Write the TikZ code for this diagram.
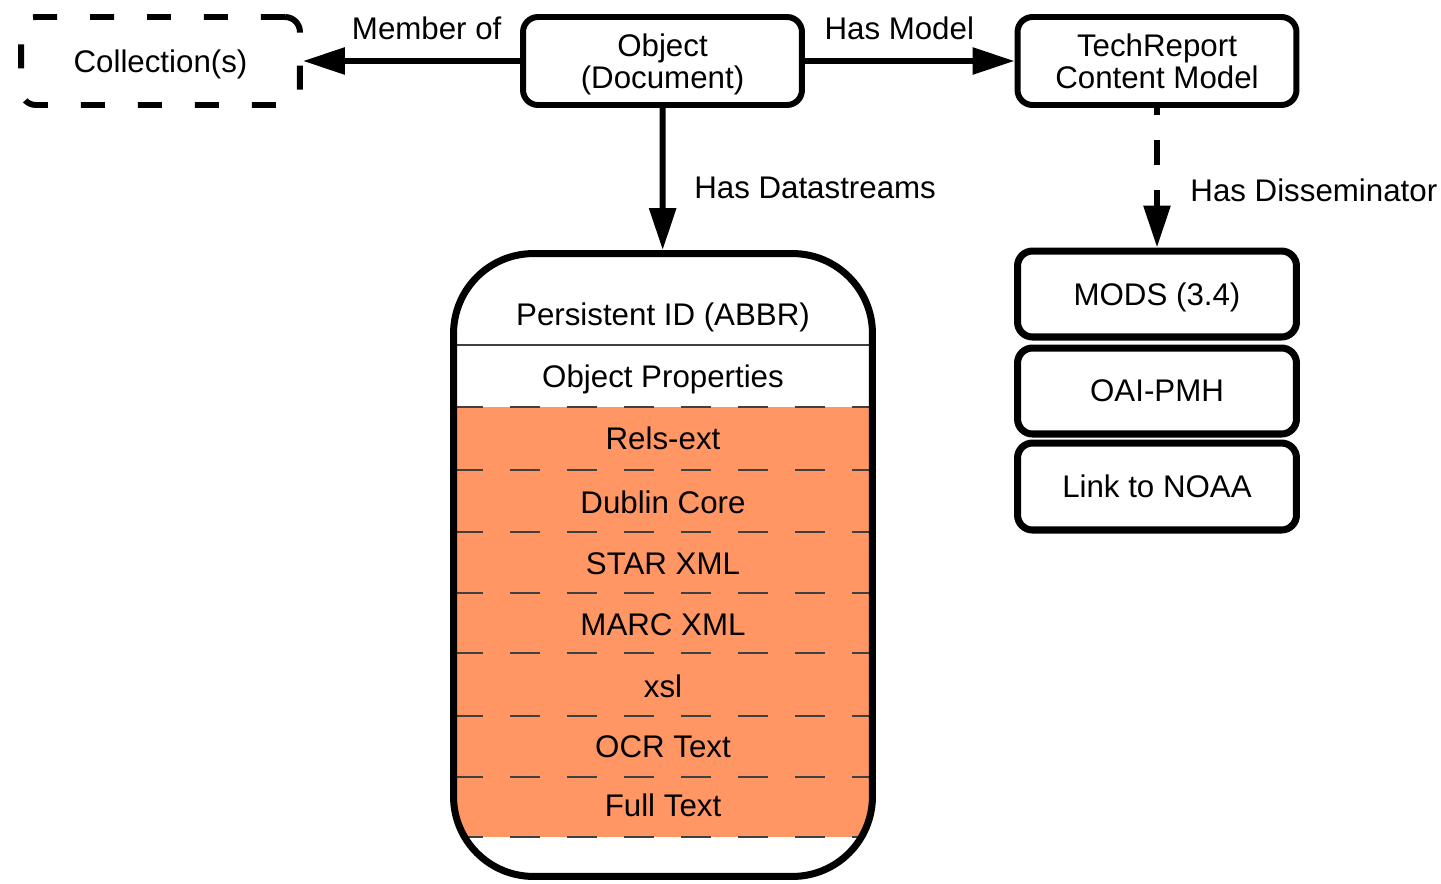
\documentclass[tikz,border=0pt]{standalone}
\usepackage{fontspec}
\setmainfont{Liberation Sans}
\usetikzlibrary{arrows.meta}
\definecolor{dsorange}{RGB}{255,150,100}

\begin{document}
\begin{tikzpicture}[x=0.02cm,y=-0.02cm,
  font=\fontsize{17.8}{18.2}\selectfont,
  box/.style={draw, line width=3.4pt, rounded corners=0.3cm, minimum width=5.58cm, minimum height=1.76cm, align=center, text depth=0pt},
  dissbox/.style={box, line width=4pt, minimum height=1.72cm},
  row/.style={text depth=0pt},
  rel/.style={line width=3.4pt, -{Triangle[length=0.84cm,width=0.52cm]}},
  sep/.style={draw=black!75, line width=1.1pt, dash pattern=on 0.6cm off 0.54cm}]
\useasboundingbox (0,0) rectangle (1441,883);

% top row
\node[box, dash pattern=on 0.48cm off 0.66cm] (coll) at (160.5,61) {Collection(s)};
\node[box] (obj) at (662.5,61) {Object\\(Document)};
\node[box] (tech) at (1157,61) {TechReport\\Content Model};

% datastreams
\begin{scope}
\clip[rounded corners=1.6cm] (453.5,253.5) rectangle (872.5,876.5);
\fill[dsorange] (453.5,407) rectangle (872.5,837);
\draw[black!75, line width=1.1pt] (453.5,345) -- (872.5,345);
\draw[sep] (453.5,407) -- (872.5,407);
\draw[sep] (453.5,470) -- (872.5,470);
\draw[sep] (453.5,532) -- (872.5,532);
\draw[sep] (453.5,593) -- (872.5,593);
\draw[sep] (453.5,653) -- (872.5,653);
\draw[sep] (453.5,716) -- (872.5,716);
\draw[sep] (453.5,777) -- (872.5,777);
\draw[sep] (453.5,837) -- (872.5,837);
\end{scope}
\node[draw, line width=4pt, rounded corners=1.6cm, minimum width=8.38cm, minimum height=12.46cm] (store) at (663,565) {};
\node[row] (pid) at (663,314) {Persistent ID (ABBR)};
\node[row] (props) at (663,376) {Object Properties};
\node[row] (rels) at (663,438) {Rels-ext};
\node[row] (dc) at (663,502) {Dublin Core};
\node[row] (star) at (663,564) {STAR XML};
\node[row] (marc) at (663,625) {MARC XML};
\node[row] (xsl) at (663,686) {xsl};
\node[row] (ocr) at (663,747) {OCR Text};
\node[row] (full) at (663,805) {Full Text};

% disseminators
\node[dissbox] (mods) at (1157,294) {MODS (3.4)};
\node[dissbox] (oai) at (1157,391) {OAI-PMH};
\node[dissbox, minimum height=1.74cm] (noaa) at (1157,486.5) {Link to NOAA};

% relations
\path[draw,rel] (obj) -- node[pos=0.43, above=7pt] {Member of} (coll);
\path[draw,rel] (obj) -- node[pos=0.45, above=7pt] {Has Model} (tech);
\path[draw,rel] (obj) -- node[pos=0.56, right=13pt] {Has Datastreams} (store);
\path[draw,rel, dash pattern=on 0.5cm off 0.5cm, dash phase=0.36cm] (tech) -- node[pos=0.59, right=14pt] {Has Disseminator} (mods);
\end{tikzpicture}
\end{document}
